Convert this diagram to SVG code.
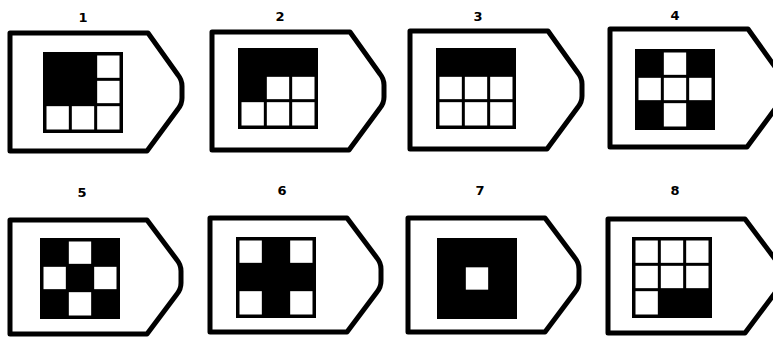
<svg xmlns="http://www.w3.org/2000/svg" width="773" height="338" viewBox="0 0 773 338">
<style>
.tag{fill:#fff;stroke:#000;stroke-width:5;stroke-linejoin:round}
.g{fill:#000}
.w{fill:#fff}
.lbl{font-family:"DejaVu Sans",sans-serif;font-weight:bold;font-size:13px;text-anchor:middle;fill:#000}
</style>
<defs>
<path id="t1" class="tag" d="M0,0 H138 L168,42 Q172,47 172,53 V65 Q172,71 168,76 L137,118 H0 Z"/>
<path id="t2" class="tag" d="M0,0 H137 L167,40 Q171,45 171,51 V63 Q171,69 167,74 L137,114 H0 Z"/>
<rect id="grid" class="g" x="0" y="0" width="80" height="81"/>
</defs>
<rect width="773" height="338" fill="#fff"/>
<g id="connectors"/>

<g id="node1">
<text class="lbl" x="83" y="22">1</text>
<use href="#t1" x="10" y="33"/>
<g transform="translate(43,52)">
<use href="#grid"/>
<rect class="w" x="54.17" y="3.5" width="22.33" height="22.33"/>
<rect class="w" x="54.17" y="28.83" width="22.33" height="22.33"/>
<rect class="w" x="3.5" y="54.17" width="22.33" height="23.33"/>
<rect class="w" x="28.83" y="54.17" width="22.33" height="23.33"/>
<rect class="w" x="54.17" y="54.17" width="22.33" height="23.33"/>
</g>
</g>

<g id="node2">
<text class="lbl" x="280" y="21">2</text>
<use href="#t1" x="212" y="32"/>
<g transform="translate(238,48)">
<use href="#grid"/>
<rect class="w" x="28.83" y="28.83" width="22.33" height="22.33"/>
<rect class="w" x="54.17" y="28.83" width="22.33" height="22.33"/>
<rect class="w" x="3.5" y="54.17" width="22.33" height="23.33"/>
<rect class="w" x="28.83" y="54.17" width="22.33" height="23.33"/>
<rect class="w" x="54.17" y="54.17" width="22.33" height="23.33"/>
</g>
</g>

<g id="node3">
<text class="lbl" x="478" y="21">3</text>
<use href="#t1" x="410" y="31"/>
<g transform="translate(436,48)">
<use href="#grid"/>
<rect class="w" x="3.5" y="28.83" width="22.33" height="22.33"/>
<rect class="w" x="28.83" y="28.83" width="22.33" height="22.33"/>
<rect class="w" x="54.17" y="28.83" width="22.33" height="22.33"/>
<rect class="w" x="3.5" y="54.17" width="22.33" height="23.33"/>
<rect class="w" x="28.83" y="54.17" width="22.33" height="23.33"/>
<rect class="w" x="54.17" y="54.17" width="22.33" height="23.33"/>
</g>
</g>

<g id="node4">
<text class="lbl" x="675" y="20">4</text>
<use href="#t1" x="610" y="29"/>
<g transform="translate(635,49)">
<use href="#grid"/>
<rect class="w" x="28.83" y="3.5" width="22.33" height="22.33"/>
<rect class="w" x="3.5" y="28.83" width="22.33" height="22.33"/>
<rect class="w" x="28.83" y="28.83" width="22.33" height="22.33"/>
<rect class="w" x="54.17" y="28.83" width="22.33" height="22.33"/>
<rect class="w" x="28.83" y="54.17" width="22.33" height="23.33"/>
</g>
</g>

<g id="node5">
<text class="lbl" x="82" y="197">5</text>
<use href="#t2" x="10" y="220"/>
<g transform="translate(40,238)">
<use href="#grid"/>
<rect class="w" x="28.83" y="3.5" width="22.33" height="22.33"/>
<rect class="w" x="3.5" y="28.83" width="22.33" height="22.33"/>
<rect class="w" x="54.17" y="28.83" width="22.33" height="22.33"/>
<rect class="w" x="28.83" y="54.17" width="22.33" height="23.33"/>
</g>
</g>

<g id="node6">
<text class="lbl" x="282" y="195">6</text>
<use href="#t2" x="210" y="218"/>
<g transform="translate(236,237)">
<use href="#grid"/>
<rect class="w" x="3.5" y="3.5" width="22.33" height="22.33"/>
<rect class="w" x="54.17" y="3.5" width="22.33" height="22.33"/>
<rect class="w" x="3.5" y="54.17" width="22.33" height="23.33"/>
<rect class="w" x="54.17" y="54.17" width="22.33" height="23.33"/>
</g>
</g>

<g id="node7">
<text class="lbl" x="480" y="195">7</text>
<use href="#t2" x="408" y="218"/>
<g transform="translate(437,238)">
<use href="#grid"/>
<rect class="w" x="28.83" y="29.33" width="22.33" height="22.33"/>
</g>
</g>

<g id="node8">
<text class="lbl" x="675" y="195">8</text>
<use href="#t2" x="608" y="219"/>
<g transform="translate(632,237)">
<use href="#grid"/>
<rect class="w" x="3.5" y="3.5" width="22.33" height="22.33"/>
<rect class="w" x="28.83" y="3.5" width="22.33" height="22.33"/>
<rect class="w" x="54.17" y="3.5" width="22.33" height="22.33"/>
<rect class="w" x="3.5" y="28.83" width="22.33" height="22.33"/>
<rect class="w" x="28.83" y="28.83" width="22.33" height="22.33"/>
<rect class="w" x="54.17" y="28.83" width="22.33" height="22.33"/>
<rect class="w" x="3.5" y="54.17" width="22.33" height="23.33"/>
</g>
</g>
</svg>
